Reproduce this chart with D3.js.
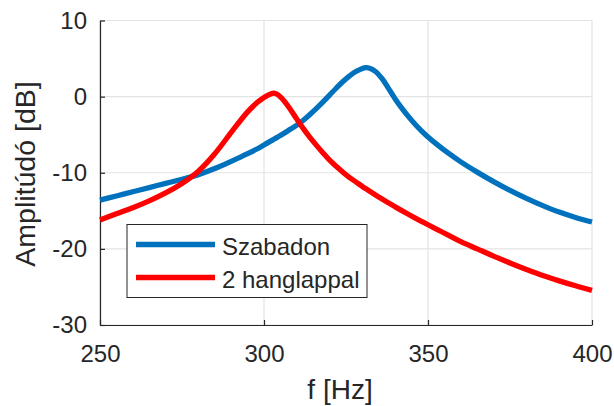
<!DOCTYPE html>
<html><head><meta charset="utf-8">
<script src="https://cdn.jsdelivr.net/npm/d3@7"></script>
<style>body{margin:0;background:#fff}svg{display:block}text{font-family:"Liberation Sans",Arial,sans-serif;fill:#262626}</style>
</head><body>
<svg id="c" width="614" height="406"></svg>
<script>
const freq = [250,255,260,265,270,275,278,280,285,290,295,298,300,302,303,304,306,308,310,312,314,316,318,320,322,324,326,328,330,331,332,334,336,338,340,342,344,346,348,350,353,356,360,365,370,375,380,385,390,395,400];
const szabadon = [-13.6,-13.05,-12.5,-11.95,-11.4,-10.85,-10.5,-10.25,-9.45,-8.5,-7.5,-6.85,-6.35,-5.85,-5.6,-5.35,-4.85,-4.3,-3.75,-3.1,-2.35,-1.55,-0.7,0.2,1.1,1.95,2.7,3.3,3.7,3.8,3.76,3.3,2.35,1.05,-0.3,-1.5,-2.6,-3.6,-4.5,-5.3,-6.38,-7.37,-8.57,-9.92,-11.17,-12.32,-13.37,-14.32,-15.17,-15.87,-16.47];
const hanglappal = [-16.2,-15.4,-14.6,-13.7,-12.65,-11.4,-10.5,-9.8,-7.5,-4.7,-2.0,-0.75,-0.1,0.35,0.45,0.3,-0.5,-1.65,-2.95,-4.2,-5.35,-6.4,-7.4,-8.35,-9.15,-9.9,-10.6,-11.2,-11.8,-12.08,-12.36,-12.92,-13.46,-13.98,-14.48,-14.97,-15.45,-15.92,-16.38,-16.83,-17.5,-18.15,-19.05,-20.0,-20.95,-21.85,-22.7,-23.5,-24.2,-24.85,-25.45];
const xTicks = [250,300,350,400];
const yTicks = [-30,-20,-10,0,10];
const seriesNames = ["Szabadon","2 hanglappal"];
const seriesColors = ["#0072BD","#FF0000"];

const svg = d3.select("#c");
const x = d3.scaleLinear().domain([250,400]).range([100,592]);
const y = d3.scaleLinear().domain([-30,10]).range([325,20.5]);

// grid
const g = svg.append("g");
g.selectAll(".gx").data(xTicks).enter().append("line")
  .attr("x1",d=>x(d)).attr("x2",d=>x(d)).attr("y1",y(-30)).attr("y2",y(10))
  .attr("stroke","#e3e3e3").attr("stroke-width",1.2);
g.selectAll(".gy").data(yTicks).enter().append("line")
  .attr("y1",d=>y(d)).attr("y2",d=>y(d)).attr("x1",x(250)).attr("x2",x(400))
  .attr("stroke","#e3e3e3").attr("stroke-width",1.2);

// axes
const fmt = d => String(d);
const xa = svg.append("g").attr("transform",`translate(0,${y(-30)})`)
  .call(d3.axisBottom(x).tickValues(xTicks).tickFormat(fmt).tickSizeInner(-5).tickSizeOuter(0).tickPadding(20));
const ya = svg.append("g").attr("transform",`translate(${x(250)},0)`)
  .call(d3.axisLeft(y).tickValues(yTicks).tickFormat(fmt).tickSizeInner(-5).tickSizeOuter(0).tickPadding(13));
[xa,ya].forEach(a=>{
  a.select(".domain").attr("stroke","#262626").attr("stroke-width",1.2);
  a.selectAll(".tick line").attr("stroke","#262626").attr("stroke-width",1.2);
  a.selectAll(".tick text").style("font-size","24px").attr("fill","#262626")
   .style("font-family","'Liberation Sans',Arial,sans-serif");
});

// lines
const line = d3.line().x((d,i)=>x(freq[i])).y(d=>y(d)).curve(d3.curveCatmullRom.alpha(0.5));
[szabadon,hanglappal].forEach((s,k)=>{
  svg.append("path").datum(s).attr("d",line).attr("fill","none")
    .attr("stroke",seriesColors[k]).attr("stroke-width",5.3)
    .attr("stroke-linejoin","round").attr("stroke-linecap","butt");
});

// labels
svg.append("text").attr("x",340).attr("y",399).attr("text-anchor","middle")
  .style("font-size","28px").text("f [Hz]");
svg.append("text").attr("transform","translate(35,174) rotate(-90)").attr("text-anchor","middle")
  .style("font-size","28.5px").text("Amplitúdó [dB]");

// legend
const lg = svg.append("g");
lg.append("rect").attr("x",127).attr("y",224.5).attr("width",240).attr("height",73)
  .attr("fill","#fff").attr("stroke","#262626").attr("stroke-width",1);
seriesNames.forEach((n,k)=>{
  const yy = 244.5 + k*33;
  lg.append("line").attr("x1",136).attr("x2",215).attr("y1",yy).attr("y2",yy)
    .attr("stroke",seriesColors[k]).attr("stroke-width",5.3);
  lg.append("text").attr("x",222).attr("y",yy+10).style("font-size","24px")
    .attr("fill","#000").text(n);
});
</script>
</body></html>
